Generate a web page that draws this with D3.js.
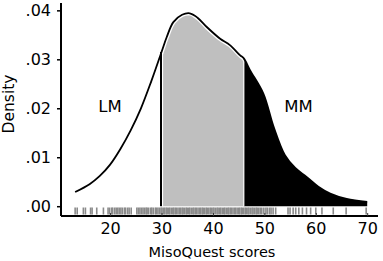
<!DOCTYPE html>
<html>
<head>
<meta charset="utf-8">
<script src="https://cdn.jsdelivr.net/npm/d3@7"></script>
<style>
  html, body { margin: 0; padding: 0; background: #fff; }
  svg text { font-family: "DejaVu Sans", Verdana, sans-serif; fill: #000; }
</style>
</head>
<body>
<div id="chart"></div>
<script>
// density curve
var scores    = [13.2, 16, 18, 20, 22, 24, 26, 28, 30, 31, 32.3, 34, 35.5, 37, 38.8, 41.4, 43.3, 45.3, 46, 47.2, 49.8, 51.8, 54, 56, 58.2, 60.5, 62.8, 66, 70];
var densities = [0.0029, 0.0045, 0.0062, 0.0085, 0.0117, 0.0155, 0.0200, 0.0255, 0.0315, 0.0345, 0.0376, 0.0391, 0.0394, 0.0385, 0.0366, 0.0342, 0.0329, 0.0308, 0.0302, 0.0278, 0.0230, 0.0162, 0.0104, 0.0078, 0.0060, 0.0040, 0.0026, 0.0015, 0.0009];

// individual scores shown as the rug
var rugScores = [13.2, 13.6, 14.8, 15.2, 16.2, 16.5, 17.4, 18.7, 19.6, 19.9, 20.3, 20.5, 20.9, 21.2, 21.5, 21.8, 22.1, 22.4, 22.8, 23.0, 23.4, 23.7, 24.1,
  25.2, 25.5, 25.8, 26.1, 26.4, 26.7, 27.0, 27.2, 27.5, 27.9, 28.1, 28.4, 28.8, 29.0, 29.3, 29.6, 29.9, 30.1, 30.4, 30.6, 30.9, 31.1, 31.4, 31.6, 31.9,
  32.2, 32.4, 32.7, 32.9, 33.2, 33.5, 33.7, 34.0, 34.2, 34.5, 34.8, 35.0, 35.3, 35.5, 35.8, 36.1, 36.3, 36.6, 36.8, 37.1, 37.4, 37.6, 37.9, 38.1, 38.4,
  38.7, 38.9, 39.2, 39.5, 39.7, 40.0, 40.2, 40.5, 40.8, 41.0, 41.3, 41.5, 41.8, 42.1, 42.3, 42.6, 42.9, 43.1, 43.4, 43.6, 43.9, 44.2, 44.4, 44.7, 45.0,
  45.2, 45.5, 45.7, 46.0, 46.3, 46.5, 46.8, 47.0, 47.3, 47.6, 47.8, 48.1, 48.4, 48.6, 48.9, 49.2, 49.5, 49.9, 50.3, 50.6, 51.0, 51.3, 51.7, 52.2,
  54.6, 55.0, 55.6, 56.1, 56.7, 57.4, 58.2, 59.0, 60.0, 61.2, 63.4, 65.9, 69.8];

var xTicks = [20, 30, 40, 50, 60, 70];
var yTicks = [0, 0.01, 0.02, 0.03, 0.04];
var cutLow = 30, cutHigh = 46;

var width = 383, height = 261;
var svg = d3.select("#chart").append("svg")
  .attr("width", width).attr("height", height);

var x = d3.scaleLinear().domain([10.45, 72.1]).range([61, 378]);
var y = d3.scaleLinear().domain([-0.002, 0.0415]).range([216, 3]);

var pts = scores.map(function (s, i) { return { s: s, d: densities[i] }; });

var area = d3.area()
  .x(function (d) { return x(d.s); })
  .y0(y(0))
  .y1(function (d) { return y(d.d); })
  .curve(d3.curveCatmullRom);
var line = d3.line()
  .x(function (d) { return x(d.s); })
  .y(function (d) { return y(d.d); })
  .curve(d3.curveCatmullRom);

var defs = svg.append("defs");
defs.append("clipPath").attr("id", "clipMid").append("rect")
  .attr("x", x(cutLow)).attr("y", 0).attr("width", x(cutHigh) - x(cutLow)).attr("height", height);
defs.append("clipPath").attr("id", "clipHigh").append("rect")
  .attr("x", x(cutHigh)).attr("y", 0).attr("width", width - x(cutHigh)).attr("height", height);

// shaded regions
svg.append("path").datum(pts).attr("d", area)
  .attr("clip-path", "url(#clipMid)").attr("fill", "#bfbfbf");
svg.append("path").datum(pts).attr("d", line)
  .attr("clip-path", "url(#clipMid)").attr("fill", "none")
  .attr("stroke", "#fff").attr("stroke-width", 4.5);
svg.append("path").datum(pts).attr("d", area)
  .attr("clip-path", "url(#clipHigh)").attr("fill", "#000");

// cut lines
var bis = d3.bisector(function (d) { return d.s; }).left;
function yAt(s) {
  var i = bis(pts, s);
  var a = pts[Math.max(0, i - 1)], b = pts[i];
  if (a.s === b.s) return y(a.d);
  return y(a.d + (b.d - a.d) * (s - a.s) / (b.s - a.s));
}
svg.append("line")
  .attr("x1", x(cutLow) + 1).attr("x2", x(cutLow) + 1)
  .attr("y1", yAt(cutLow)).attr("y2", y(0))
  .attr("stroke", "#fff").attr("stroke-width", 1.2);
svg.append("line")
  .attr("x1", x(cutLow) - 0.5).attr("x2", x(cutLow) - 0.5)
  .attr("y1", yAt(cutLow)).attr("y2", y(0))
  .attr("stroke", "#000").attr("stroke-width", 2);
svg.append("line")
  .attr("x1", x(cutHigh)).attr("x2", x(cutHigh))
  .attr("y1", yAt(cutHigh) + 2).attr("y2", y(0))
  .attr("stroke", "#fff").attr("stroke-width", 1.2);

// density curve
svg.append("path").datum(pts).attr("d", line)
  .attr("fill", "none").attr("stroke", "#000").attr("stroke-width", 1.8);

// rug
svg.append("g").selectAll("line").data(rugScores).enter().append("line")
  .attr("x1", function (d) { return x(d); })
  .attr("x2", function (d) { return x(d); })
  .attr("y1", 207.5).attr("y2", 214.5)
  .attr("stroke", "#8a8a8a").attr("stroke-width", 1.6);

// axes
var yAxis = svg.append("g").attr("transform", "translate(61,0)")
  .call(d3.axisLeft(y).tickValues(yTicks).tickSize(4).tickPadding(6)
    .tickFormat(function (d) { return d3.format(".2f")(d).replace(/^0/, ""); }));
yAxis.select(".domain").attr("d", "M0," + y.range()[1] + "V" + y.range()[0]).attr("stroke-width", 2);
yAxis.selectAll("text").attr("font-size", 16).attr("font-family", "DejaVu Sans");
yAxis.selectAll(".tick line").attr("stroke-width", 1.5);

var xAxis = svg.append("g").attr("transform", "translate(0,216)")
  .call(d3.axisBottom(x).tickValues(xTicks).tickSize(-3).tickPadding(7));
xAxis.select(".domain").attr("d", "M61,0H" + x.range()[1]).attr("stroke-width", 2);
xAxis.selectAll("text").attr("font-size", 16).attr("font-family", "DejaVu Sans");
xAxis.selectAll(".tick line").attr("stroke", "#333");

// titles and labels
svg.append("text").attr("x", 212).attr("y", 257).attr("text-anchor", "middle")
  .attr("font-size", 14.5).text("MisoQuest scores");
svg.append("text").attr("transform", "translate(14,104) rotate(-90)")
  .attr("text-anchor", "middle").attr("font-size", 15.5).text("Density");
svg.append("text").attr("x", 110).attr("y", 112).attr("text-anchor", "middle")
  .attr("font-size", 16.5).text("LM");
svg.append("text").attr("x", 298.5).attr("y", 112).attr("text-anchor", "middle")
  .attr("font-size", 16.5).text("MM");
</script>
</body>
</html>
